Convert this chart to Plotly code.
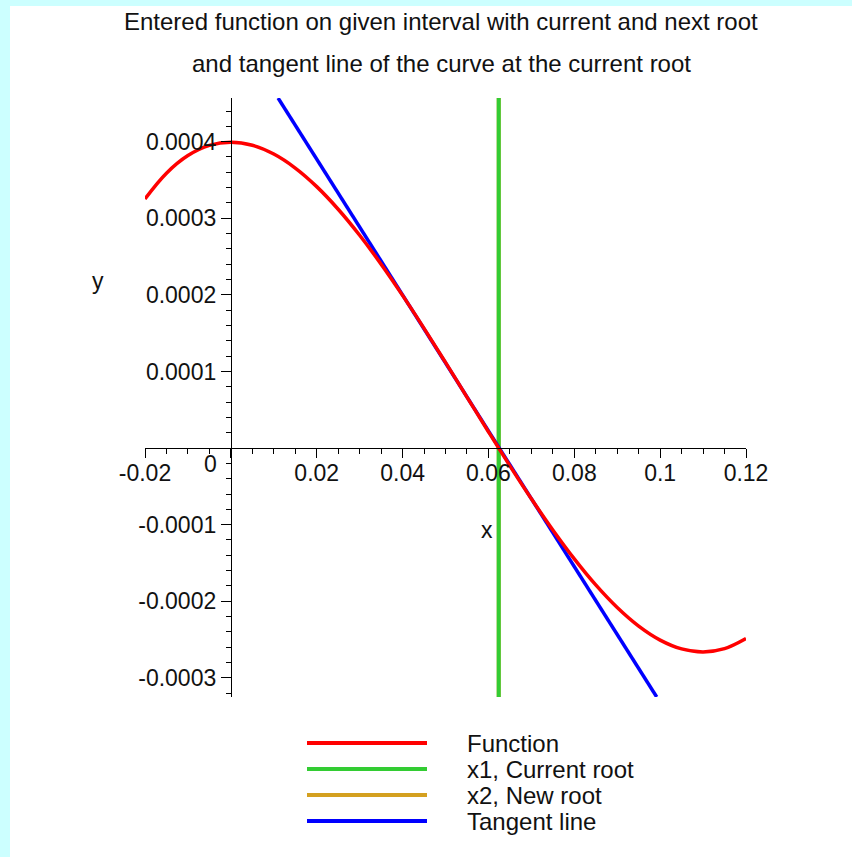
import plotly.graph_objects as go

# ---------------- data ----------------
func_x = [-0.02, -0.015, -0.01, -0.005, 0.0, 0.005, 0.01, 0.015, 0.02, 0.025, 0.03, 0.035,
          0.04, 0.045, 0.05, 0.055, 0.06, 0.065, 0.07, 0.075, 0.08, 0.085, 0.09, 0.095,
          0.10, 0.105, 0.11, 0.115, 0.12]
func_y = [3.253e-4, 3.588e-4, 3.818e-4, 3.9505e-4, 3.993e-4, 3.953e-4, 3.838e-4, 3.6555e-4,
          3.413e-4, 3.118e-4, 2.778e-4, 2.4005e-4, 1.993e-4, 1.563e-4, 1.118e-4, 6.655e-5,
          2.13e-5, -2.32e-5, -6.62e-5, -1.0695e-4, -1.447e-4, -1.787e-4, -2.082e-4, -2.3245e-4,
          -2.507e-4, -2.622e-4, -2.662e-4, -2.6195e-4, -2.487e-4]

x1_root = 0.0624          # current root
x2_root = 0.0624          # new root (hidden under the current-root line)

tangent_x = [0.0110, 0.0992]
tangent_y = [0.000457, -0.000325]

x_range = [-0.02, 0.12]
y_range = [-0.000325, 0.000457]

x_tickvals = [-0.02, 0.0, 0.02, 0.04, 0.06, 0.08, 0.10, 0.12]
x_ticktext = ["-0.02", "", "0.02", "0.04", "0.06", "0.08", "0.1", "0.12"]
y_tickvals = [-0.0003, -0.0002, -0.0001, 0.0, 0.0001, 0.0002, 0.0003, 0.0004]
y_ticktext = ["-0.0003", "-0.0002", "-0.0001", "", "0.0001", "0.0002", "0.0003", "0.0004"]

legend_names = ["Function", "x1, Current root", "x2, New root", "Tangent line"]
title_lines = ["Entered function on given interval with current and next root",
               "and tangent line of the curve at the current root"]

# ---------------- styles ----------------
RED = "#ff0000"
GREEN = "#33cc33"
ORANGE = "#d4a020"
BLUE = "#0000ff"
CYAN = "#ccffff"
legend_colors = [RED, GREEN, ORANGE, BLUE]
FONT = "Liberation Sans, Arial, sans-serif"
TXT = "#111111"

W, H = 852, 857
L, R, T, B = 145, 106, 98, 160


def px_x(p):
    return (p - L) / (W - L - R)


def px_y(p):
    return (H - B - p) / (H - T - B)


fig = go.Figure()

# vertical root lines (span the whole y-range)
fig.add_trace(go.Scatter(x=[x2_root, x2_root], y=y_range, mode="lines",
                         line=dict(color=ORANGE, width=4), name=legend_names[2],
                         showlegend=False, cliponaxis=False))
fig.add_trace(go.Scatter(x=[x1_root, x1_root], y=y_range, mode="lines",
                         line=dict(color=GREEN, width=4), name=legend_names[1],
                         showlegend=False, cliponaxis=False))
fig.add_trace(go.Scatter(x=tangent_x, y=tangent_y, mode="lines",
                         line=dict(color=BLUE, width=3.5), name=legend_names[3],
                         showlegend=False, cliponaxis=False))
fig.add_trace(go.Scatter(x=func_x, y=func_y, mode="lines", line_shape="spline",
                         line=dict(color=RED, width=3.5, smoothing=1.0), name=legend_names[0],
                         showlegend=False, cliponaxis=False))

# axes crossing at the origin
x_pos = (0 - y_range[0]) / (y_range[1] - y_range[0])
y_pos = (0 - x_range[0]) / (x_range[1] - x_range[0])

tickfont = dict(family=FONT, size=23, color=TXT)

fig.update_xaxes(
    range=x_range, anchor="free", position=x_pos, automargin=False,
    showgrid=False, zeroline=False, showline=True, linecolor="black", linewidth=1,
    tickmode="array", tickvals=x_tickvals, ticktext=x_ticktext,
    ticks="outside", ticklen=9, tickwidth=1, tickcolor="black", tickfont=tickfont,
    ticklabelstandoff=-5,
    minor=dict(ticks="outside", ticklen=5, tickwidth=1, tickcolor="black",
               tickmode="linear", tick0=0, dtick=0.005, showgrid=False),
)
fig.update_yaxes(
    range=y_range, anchor="free", position=y_pos, automargin=False,
    showgrid=False, zeroline=False, showline=True, linecolor="black", linewidth=1,
    tickmode="array", tickvals=y_tickvals, ticktext=y_ticktext,
    ticks="outside", ticklen=10, tickwidth=1, tickcolor="black", tickfont=tickfont,
    minor=dict(ticks="outside", ticklen=5, tickwidth=1, tickcolor="black",
               tickmode="linear", tick0=0, dtick=0.00002, showgrid=False),
)

annotations = []
# origin label
annotations.append(dict(x=0, y=0, xref="x", yref="y", text="0", showarrow=False,
                        xanchor="right", yanchor="top", xshift=-12, yshift=-1,
                        font=tickfont))
# axis labels
annotations.append(dict(x=px_x(98), y=px_y(281), xref="paper", yref="paper", text="y",
                        showarrow=False, xanchor="center", yanchor="middle",
                        font=dict(family=FONT, size=23, color=TXT)))
annotations.append(dict(x=px_x(487), y=px_y(530), xref="paper", yref="paper", text="x",
                        showarrow=False, xanchor="center", yanchor="middle",
                        font=dict(family=FONT, size=23, color=TXT)))
# title lines
for txt, ypix in zip(title_lines, [21, 63]):
    annotations.append(dict(x=px_x(441), y=px_y(ypix), xref="paper", yref="paper", text=txt,
                            showarrow=False, xanchor="center", yanchor="middle",
                            font=dict(family=FONT, size=24, color=TXT)))

shapes = []
# white page over the light-cyan paper, leaving cyan bands at the left and top
shapes.append(dict(type="rect", xref="paper", yref="paper", layer="below",
                   x0=px_x(10), x1=px_x(W + 5), y0=px_y(H + 5), y1=px_y(6),
                   fillcolor="white", line=dict(width=0)))

# legend (long line swatches + labels)
for i, (name, col) in enumerate(zip(legend_names, legend_colors)):
    ypix = 743 + 26 * i
    shapes.append(dict(type="line", xref="paper", yref="paper", x0=px_x(307), x1=px_x(427),
                       y0=px_y(ypix), y1=px_y(ypix), line=dict(color=col, width=4)))
    annotations.append(dict(x=px_x(465), y=px_y(ypix), xref="paper", yref="paper", text=name,
                            showarrow=False, xanchor="left", yanchor="middle",
                            font=dict(family=FONT, size=24, color=TXT)))

fig.update_layout(
    width=W, height=H, autosize=False,
    margin=dict(l=L, r=R, t=T, b=B, pad=0),
    paper_bgcolor=CYAN, plot_bgcolor="rgba(0,0,0,0)",
    showlegend=False,
    annotations=annotations, shapes=shapes,
)

fig.write_html("out.html", config={"displayModeBar": False},
               post_script="document.body.style.margin='0';document.body.style.overflow='hidden';")
